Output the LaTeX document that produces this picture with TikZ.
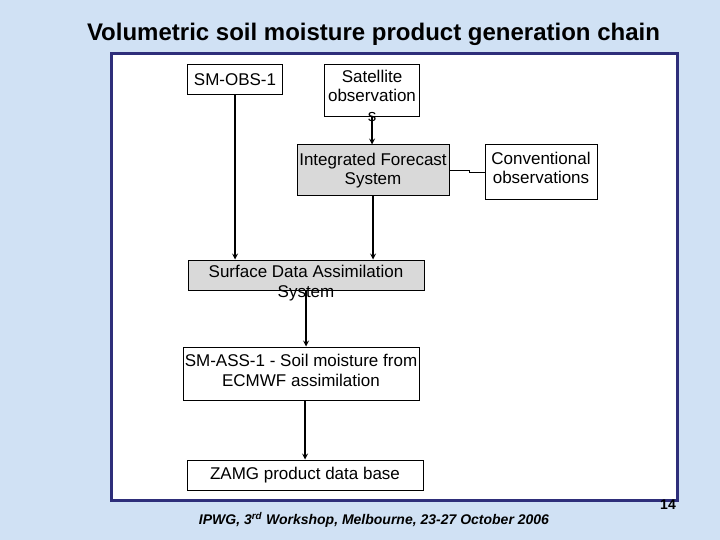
\documentclass[tikz,border=0pt]{standalone}
\usepackage{fontspec}
\setmainfont{Liberation Sans}
\usetikzlibrary{arrows,calc}
\definecolor{BackClr}{RGB}{208,225,244}
\definecolor{PanelClr}{RGB}{46,46,122}
\definecolor{BoxClr}{RGB}{217,217,217}

\tikzset{
  boxbase/.style={draw=black,line width=1pt,inner sep=0pt,
    font=\fontsize{17}{19.5}\selectfont},
  chainbox/.style={boxbase,align=center},
  spillbox/.style={boxbase,text height=0pt,text depth=0pt},
  flowarrow/.style={line width=1.6pt,-stealth}
}
% lines that run out of the bottom of a box, as on the slide
\newcommand{\spilltext}[2]{\raisebox{-#1}{\begin{tabular}[b]{@{}c@{}}#2\end{tabular}}}

\begin{document}
\begin{tikzpicture}[x=1pt,y=-1pt]
\fill[BackClr] (0,0) rectangle (720,540);
\useasboundingbox (0,0) rectangle (720,540);

\coordinate (O) at (235,80);
\coordinate (S) at (372,91);
\coordinate (I) at (373,170.5);
\coordinate (C) at (541,172.5);
\coordinate (D) at (306,275);
\coordinate (A) at (301,373.5);
\coordinate (Z) at (305,475);

\node[font=\fontsize{24}{28}\selectfont\bfseries] (title) at (373.5,34)
  {Volumetric soil moisture product generation chain};

\draw[line width=3pt,draw=PanelClr,fill=white] (111,54) rectangle (677,500);

\node[chainbox,minimum width=95,minimum height=30] (obs) at (O) {SM-OBS-1};
\node[spillbox,minimum width=95,minimum height=52] (sat) at (S)
  {\spilltext{30.5pt}{Satellite\\observation\\s}};
\node[chainbox,fill=BoxClr,minimum width=152,minimum height=51] (ifs) at (I)
  {Integrated Forecast\\System};
\node[chainbox,minimum width=112,minimum height=55,text height=32pt,text depth=9pt]
  (conv) at (C) {Conventional\\observations};
\node[spillbox,fill=BoxClr,minimum width=236,minimum height=30] (sdas) at (D)
  {\spilltext{22pt}{Surface Data Assimilation\\System}};
\node[chainbox,minimum width=236,minimum height=53,text height=32pt,text depth=7pt]
  (ass) at (A) {SM-ASS-1 - Soil moisture from\\ECMWF assimilation};
\node[chainbox,minimum width=236,minimum height=30] (zamg) at (Z)
  {ZAMG product data base};

\draw[flowarrow] (obs.south) -- (obs.south |- sdas.north);
\draw[flowarrow] (sat.south) -- (sat.south |- ifs.north);
\draw[flowarrow] (ifs.south) -- (ifs.south |- sdas.north);
\draw[flowarrow] (sdas.south) -- (sdas.south |- ass.north);
\draw[flowarrow] (zamg.north |- ass.south) -- (zamg.north);
\draw[line width=1.6pt] (conv.west) -- ++(-15,0) |- (ifs.east);

\node[font=\fontsize{14}{16}\selectfont\bfseries] (page) at (668,505) {14};
\node[font=\fontsize{14}{16}\selectfont\bfseries\itshape] (foot) at (374,520)
  {IPWG, 3\textsuperscript{rd} Workshop, Melbourne, 23-27 October 2006};

\end{tikzpicture}
\end{document}
